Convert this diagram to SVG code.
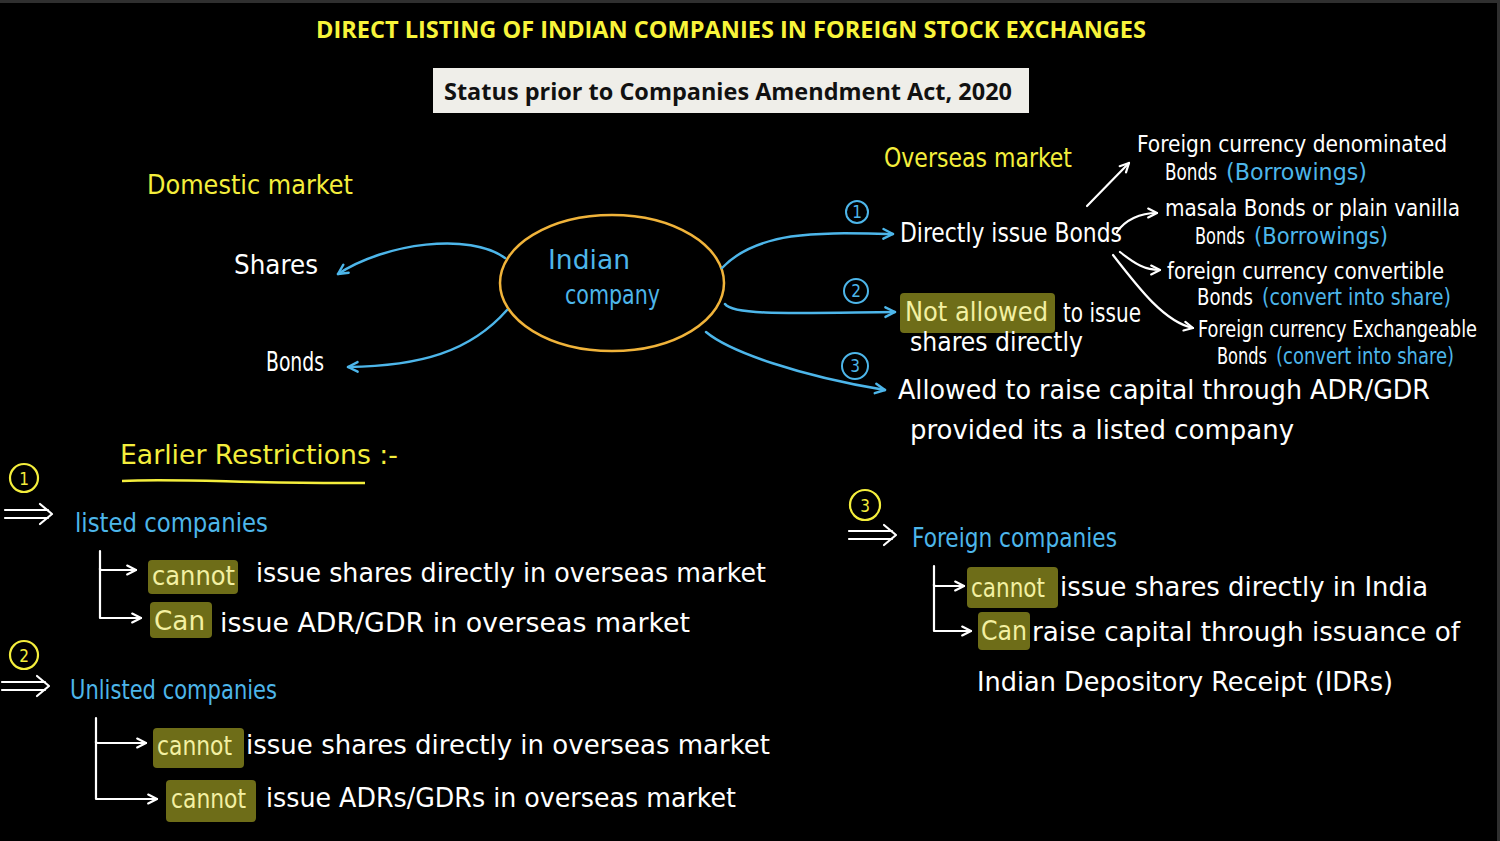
<svg xmlns="http://www.w3.org/2000/svg" width="1500" height="841" viewBox="0 0 1500 841">
<defs>
<style>
.hw{font-family:"DejaVu Sans Condensed","Noto Sans","Liberation Sans",sans-serif;font-size:27px;}
.sm{font-size:23px;}
.w{fill:#ffffff;}
.y{fill:#f4ee3c;}
.b{fill:#4db6ea;}
.hy{fill:#f3f0a2;}
.hl{fill:#6e6d18;}
.cb{fill:none;stroke:#4db6ea;stroke-width:2.5;stroke-linecap:round;}
.cw{fill:none;stroke:#ffffff;stroke-width:2.2;stroke-linecap:round;stroke-linejoin:round;}
.cy{fill:none;stroke:#f4ee3c;stroke-width:2.5;}
.num{font-family:"DejaVu Sans Condensed","Liberation Sans",sans-serif;font-size:17px;text-anchor:middle;}
</style>
<marker id="ab" viewBox="0 0 10 10" refX="9" refY="5" markerWidth="12" markerHeight="12" orient="auto" markerUnits="userSpaceOnUse" overflow="visible">
<path d="M1,1 L9,5 L1,9" fill="none" stroke="#4db6ea" stroke-width="2" stroke-linecap="round" stroke-linejoin="round"/>
</marker>
<marker id="aw" viewBox="0 0 10 10" refX="9" refY="5" markerWidth="11" markerHeight="11" orient="auto" markerUnits="userSpaceOnUse" overflow="visible">
<path d="M1,1 L9,5 L1,9" fill="none" stroke="#ffffff" stroke-width="2" stroke-linecap="round" stroke-linejoin="round"/>
</marker>
</defs>
<rect x="0" y="0" width="1500" height="841" fill="#000000"/>
<path d="M0,1.5 L1498.5,1.5 L1498.5,841" fill="none" stroke="#2f2f2f" stroke-width="3"/>

<g id="title">
<text x="731" y="38" text-anchor="middle" font-family="'Open Sans','Liberation Sans',sans-serif" font-weight="bold" font-size="24" fill="#f8f43a" textLength="830" lengthAdjust="spacingAndGlyphs">DIRECT LISTING OF INDIAN COMPANIES IN FOREIGN STOCK EXCHANGES</text>
</g>
<g id="subtitle">
<rect x="433" y="68" width="596" height="45" fill="#efeee9"/>
<text x="444" y="100" font-family="'Open Sans','Liberation Sans',sans-serif" font-weight="bold" font-size="24" fill="#111111" textLength="568" lengthAdjust="spacingAndGlyphs">Status prior to Companies Amendment Act, 2020</text>
</g>

<g id="domestic">
<text class="hw y" x="147" y="194" textLength="206" lengthAdjust="spacingAndGlyphs">Domestic market</text>
<text class="hw w" x="234" y="274" textLength="84" lengthAdjust="spacingAndGlyphs">Shares</text>
<text class="hw w" x="266" y="371" textLength="58" lengthAdjust="spacingAndGlyphs">Bonds</text>
</g>

<g id="indian-company">
<ellipse cx="612" cy="283" rx="112" ry="68" fill="none" stroke="#f0b33a" stroke-width="2.5"/>
<text class="hw b" x="548" y="269" textLength="82" lengthAdjust="spacingAndGlyphs">Indian</text>
<text class="hw b" x="565" y="304" textLength="95" lengthAdjust="spacingAndGlyphs">company</text>
</g>

<g id="connectors">
<path class="cb" d="M505,258 C470,232 385,243 338,274" marker-end="url(#ab)"/>
<path class="cb" d="M507,310 C470,352 420,366 348,367" marker-end="url(#ab)"/>
<path class="cb" d="M722,268 C760,228 830,233 893,234" marker-end="url(#ab)"/>
<path class="cb" d="M725,304 C733,316 800,313 895,312" marker-end="url(#ab)"/>
<path class="cb" d="M706,332 C730,352 800,376 885,390" marker-end="url(#ab)"/>
<path class="cw" d="M1087,206 L1129,163" marker-end="url(#aw)"/>
<path class="cw" d="M1117,232 C1125,220 1140,213 1157,213" marker-end="url(#aw)"/>
<path class="cw" d="M1120,252 C1135,264 1145,270 1160,270" marker-end="url(#aw)"/>
<path class="cw" d="M1113,255 C1140,290 1165,322 1193,328" marker-end="url(#aw)"/>
<path class="cw" d="M100,551 L100,570 L136,570" marker-end="url(#aw)"/>
<path class="cw" d="M100,568 L100,618 L141,618" marker-end="url(#aw)"/>
<path class="cw" d="M96,718 L96,743 L146,743" marker-end="url(#aw)"/>
<path class="cw" d="M96,741 L96,799 L157,799" marker-end="url(#aw)"/>
<path class="cw" d="M934,566 L934,586 L964,586" marker-end="url(#aw)"/>
<path class="cw" d="M934,584 L934,631 L971,631" marker-end="url(#aw)"/>
<path class="cw" d="M5,510 L48,510 M5,518 L48,518 M40,504 L52,514 L40,524"/>
<path class="cw" d="M2,682 L45,682 M2,690 L45,690 M37,676 L49,686 L37,696"/>
<path class="cw" d="M849,531 L892,531 M849,539 L892,539 M884,525 L896,535 L884,545"/>
</g>

<g id="overseas">
<text class="hw y" x="884" y="167" textLength="188" lengthAdjust="spacingAndGlyphs">Overseas market</text>
<circle cx="857" cy="212" r="11" fill="none" stroke="#4db6ea" stroke-width="2"/>
<text class="num b" x="857" y="218">1</text>
<circle cx="856" cy="291" r="12" fill="none" stroke="#4db6ea" stroke-width="2"/>
<text class="num b" x="856" y="297">2</text>
<circle cx="855" cy="366" r="13" fill="none" stroke="#4db6ea" stroke-width="2"/>
<text class="num b" x="855" y="372">3</text>
</g>

<g id="directly-issue-bonds">
<text class="hw w" x="900" y="242" textLength="222" lengthAdjust="spacingAndGlyphs">Directly issue Bonds</text>
</g>

<g id="bond-types">
<text class="hw sm w" x="1137" y="152" textLength="310" lengthAdjust="spacingAndGlyphs">Foreign currency denominated</text>
<text class="hw sm w" x="1165" y="180" textLength="52" lengthAdjust="spacingAndGlyphs">Bonds</text>
<text class="hw sm b" x="1226" y="180" textLength="141" lengthAdjust="spacingAndGlyphs">(Borrowings)</text>
<text class="hw sm w" x="1165" y="216" textLength="295" lengthAdjust="spacingAndGlyphs">masala Bonds or plain vanilla</text>
<text class="hw sm w" x="1195" y="244" textLength="50" lengthAdjust="spacingAndGlyphs">Bonds</text>
<text class="hw sm b" x="1254" y="244" textLength="134" lengthAdjust="spacingAndGlyphs">(Borrowings)</text>
<text class="hw sm w" x="1167" y="279" textLength="277" lengthAdjust="spacingAndGlyphs">foreign currency convertible</text>
<text class="hw sm w" x="1197" y="305" textLength="56" lengthAdjust="spacingAndGlyphs">Bonds</text>
<text class="hw sm b" x="1262" y="305" textLength="189" lengthAdjust="spacingAndGlyphs">(convert into share)</text>
<text class="hw sm w" x="1198" y="337" textLength="279" lengthAdjust="spacingAndGlyphs">Foreign currency Exchangeable</text>
<text class="hw sm w" x="1217" y="364" textLength="50" lengthAdjust="spacingAndGlyphs">Bonds</text>
<text class="hw sm b" x="1276" y="364" textLength="178" lengthAdjust="spacingAndGlyphs">(convert into share)</text>
</g>

<g id="not-allowed">
<rect class="hl" x="900" y="293" width="155" height="40" rx="4"/>
<text class="hw hy" x="905" y="321" textLength="143" lengthAdjust="spacingAndGlyphs">Not allowed</text>
<text class="hw w" x="1063" y="322" textLength="78" lengthAdjust="spacingAndGlyphs">to issue</text>
<text class="hw w" x="910" y="351" textLength="173" lengthAdjust="spacingAndGlyphs">shares directly</text>
</g>

<g id="allowed-adr">
<text class="hw w" x="898" y="399" textLength="532" lengthAdjust="spacingAndGlyphs">Allowed to raise capital through ADR/GDR</text>
<text class="hw w" x="910" y="439" textLength="384" lengthAdjust="spacingAndGlyphs">provided its a listed company</text>
</g>

<g id="earlier-restrictions">
<text class="hw y" x="120" y="464" textLength="278" lengthAdjust="spacingAndGlyphs">Earlier Restrictions :-</text>
<path class="cy" d="M122,481 C180,478 250,484 365,483"/>
</g>

<g id="listed">
<circle cx="24" cy="478" r="14" fill="none" stroke="#f4ee3c" stroke-width="2.2"/>
<text class="num y" x="24" y="485" font-size="19">1</text>
<text class="hw b" x="75" y="532" textLength="193" lengthAdjust="spacingAndGlyphs">listed companies</text>
<rect class="hl" x="148" y="560" width="90" height="34" rx="4"/>
<text class="hw hy" x="152" y="585" textLength="83" lengthAdjust="spacingAndGlyphs">cannot</text>
<text class="hw w" x="256" y="582" textLength="510" lengthAdjust="spacingAndGlyphs">issue shares directly in overseas market</text>
<rect class="hl" x="150" y="602" width="62" height="36" rx="4"/>
<text class="hw hy" x="154" y="630" textLength="51" lengthAdjust="spacingAndGlyphs">Can</text>
<text class="hw w" x="220" y="632" textLength="470" lengthAdjust="spacingAndGlyphs">issue ADR/GDR in overseas market</text>
</g>

<g id="unlisted">
<circle cx="24" cy="655" r="14" fill="none" stroke="#f4ee3c" stroke-width="2.2"/>
<text class="num y" x="24" y="662" font-size="19">2</text>
<text class="hw b" x="70" y="699" textLength="207" lengthAdjust="spacingAndGlyphs">Unlisted companies</text>
<rect class="hl" x="153" y="728" width="91" height="40" rx="4"/>
<text class="hw hy" x="157" y="755" textLength="75" lengthAdjust="spacingAndGlyphs">cannot</text>
<text class="hw w" x="246" y="754" textLength="524" lengthAdjust="spacingAndGlyphs">issue shares directly in overseas market</text>
<rect class="hl" x="166" y="780" width="90" height="42" rx="4"/>
<text class="hw hy" x="171" y="808" textLength="75" lengthAdjust="spacingAndGlyphs">cannot</text>
<text class="hw w" x="266" y="807" textLength="470" lengthAdjust="spacingAndGlyphs">issue ADRs/GDRs in overseas market</text>
</g>

<g id="foreign">
<circle cx="865" cy="505" r="15" fill="none" stroke="#f4ee3c" stroke-width="2.2"/>
<text class="num y" x="865" y="512" font-size="19">3</text>
<text class="hw b" x="912" y="547" textLength="205" lengthAdjust="spacingAndGlyphs">Foreign companies</text>
<rect class="hl" x="967" y="567" width="91" height="41" rx="4"/>
<text class="hw hy" x="971" y="597" textLength="74" lengthAdjust="spacingAndGlyphs">cannot</text>
<text class="hw w" x="1060" y="596" textLength="368" lengthAdjust="spacingAndGlyphs">issue shares directly in India</text>
<rect class="hl" x="978" y="612" width="52" height="38" rx="4"/>
<text class="hw hy" x="981" y="640" textLength="46" lengthAdjust="spacingAndGlyphs">Can</text>
<text class="hw w" x="1032" y="641" textLength="428" lengthAdjust="spacingAndGlyphs">raise capital through issuance of</text>
<text class="hw w" x="977" y="691" textLength="416" lengthAdjust="spacingAndGlyphs">Indian Depository Receipt (IDRs)</text>
</g>
</svg>
